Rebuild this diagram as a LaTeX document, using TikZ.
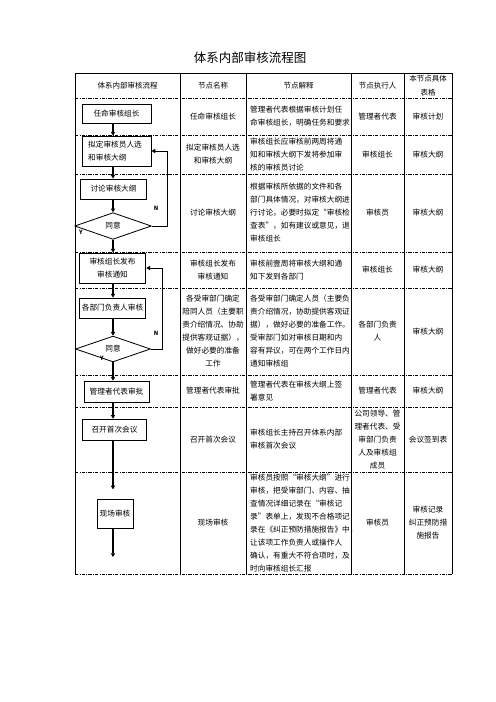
\documentclass[tikz,border=0pt]{standalone}
\usepackage{fontspec}
\setmainfont{Noto Sans CJK SC}
\usetikzlibrary{arrows.meta, positioning, shapes.geometric}

\newcommand{\cellfont}{\fontsize{9.2}{15.6}\selectfont}
\newcommand{\headfont}{\fontsize{9}{16.5}\selectfont}

\begin{document}
\begin{tikzpicture}[
x=1.2pt, y=-1.2pt,
cell/.style={align=center, font=\cellfont, inner sep=0pt},
note/.style={align=left, anchor=west, font=\cellfont, inner sep=0pt},
head/.style={align=center, font=\headfont, inner sep=0pt},
stepbox/.style={rectangle, draw=black, line width=1pt, align=center, font=\cellfont, inner sep=0pt, minimum width=80pt, minimum height=24pt},
decide/.style={diamond, draw=black, line width=1pt, font=\cellfont, inner sep=0pt, minimum width=92pt, minimum height=32pt},
tag/.style={font=\fontsize{7}{8}\selectfont\bfseries, inner sep=0pt},
flow/.style={-{Triangle[length=4.5pt, width=5pt]}, line width=1.5pt},
back/.style={-{Triangle[length=4.5pt, width=5pt]}, line width=1.1pt},
rowline/.style={line width=0.9pt, dash pattern=on 4pt off 1.5pt on 1pt off 1.5pt},
colline/.style={line width=1pt}
]
\useasboundingbox (0,0) rectangle (496,702);

% title
\node[font=\fontsize{15}{18}\selectfont, inner sep=0pt] (title) at (250,58) {体系内部审核流程图};

% table grid
\draw[colline] (75,73) -- (452,73);
\foreach \y in {98,135,174,252,288,375,407,472,574}
  \draw[rowline] (75,\y) -- (452,\y);
\foreach \x in {75,180,246,351,404,452}
  \draw[colline] (\x,73) -- (\x,574);

% header
\node[head] (h1) at (127.5,85.5) {体系内部审核流程};
\node[head] (h2) at (213,85.5) {节点名称};
\node[head] (h3) at (298.5,85.5) {节点解释};
\node[head] (h4) at (377.5,85.5) {节点执行人};
\node[head] (h5) at (428,85.5) {本节点具体\\表格};

% flow chart
\node[stepbox, minimum width=83pt, minimum height=23pt] (b1) at (116.5,113.5) {任命审核组长};
\node[stepbox, minimum width=83pt, minimum height=36pt, align=left, text width=68pt] (b2) at (116.5,151) {拟定审核员人选\\和审核大纲};
\node[stepbox, minimum height=24pt] (b3) at (113.5,189) {讨论审核大纲};
\node[decide] (d1) at (113,226) {同意};
\node[stepbox, minimum height=36pt] (b4) at (112.5,268) {审核组长发布\\审核通知};
\node[stepbox, minimum height=24pt] (b5) at (112.5,308) {各部门负责人审核};
\node[decide, minimum width=90pt, minimum height=31pt] (d2) at (113,349) {同意};
\node[stepbox, minimum width=78pt, minimum height=25pt] (b6) at (116.5,391.5) {管理者代表审批};
\node[stepbox, minimum width=76pt, minimum height=26pt] (b7) at (114.5,430) {召开首次会议};
\node[stepbox, minimum width=43pt, minimum height=34pt] (b8) at (115,514) {现场审核};
\coordinate (end) at (113,557);

\node[tag] (n1) at (156,208) {N};
\node[tag] (y1) at (81,232) {Y};
\node[tag] (n2) at (156,333) {N};
\node[tag] (y2) at (102,358) {Y};

\draw[flow] (b1.south -| d1) -- (b2.north -| d1);
\draw[flow] (b2.south -| d1) -- (b3.north -| d1);
\draw[flow] (b3.south -| d1) -- (d1.north);
\draw[flow] (d1.south) -- (b4.north -| d1);
\draw[flow] (b4.south -| d2) -- (b5.north -| d2);
\draw[flow] (b5.south -| d2) -- (d2.north);
\draw[flow] (d2.south) -- (b6.north -| d2);
\draw[flow] (b6.south -| d2) -- (b7.north -| d2);
\draw[flow, shorten >=12pt] (b7.south -| d2) -- (b8.north -| d2);
\draw[flow] (b8.south -| end) -- (end);
\draw[back] (d1.east) -- ++(16,0) |- (b2.east);
\draw[back] (d2.east) -- ++(12,0) |- (b4.east);

% node names
\node[cell] (nm1) at (213,116.5) {任命审核组长};
\node[cell] (nm2) at (213,154.5) {拟定审核员人选\\和审核大纲};
\node[cell] (nm3) at (213,213) {讨论审核大纲};
\node[cell] (nm4) at (213,270) {审核组长发布\\审核通知};
\node[cell] (nm5) at (213,331.5) {各受审部门确定\\陪同人员（主要职\\责介绍情况、协助\\提供客观证据），\\做好必要的准备\\工作};
\node[cell] (nm6) at (213,391) {管理者代表审批};
\node[cell] (nm7) at (213,439.5) {召开首次会议};
\node[cell] (nm8) at (213,523) {现场审核};

% explanations
\node[note] (ex1) at (250,116.5) {管理者代表根据审核计划任\\命审核组长，明确任务和要求};
\node[note] (ex2) at (250,154.5) {审核组长应审核前两周将通\\知和审核大纲下发将参加审\\核的审核员讨论};
\node[note] (ex3) at (250,213) {根据审核所依据的文件和各\\部门具体情况，对审核大纲进\\行讨论，必要时拟定“审核检\\查表”，如有建议或意见，退\\审核组长};
\node[note] (ex4) at (250,270) {审核前壹周将审核大纲和通\\知下发到各部门};
\node[note] (ex5) at (250,331.5) {各受审部门确定人员（主要负\\责介绍情况，协助提供客观证\\据），做好必要的准备工作。\\受审部门如对审核日期和内\\容有异议，可在两个工作日内\\通知审核组};
\node[note] (ex6) at (250,391) {管理者代表在审核大纲上签\\署意见};
\node[note] (ex7) at (250,439.5) {审核组长主持召开体系内部\\审核首次会议};
\node[note] (ex8) at (250,523) {审核员按照“审核大纲”进行\\审核，把受审部门、内容、抽\\查情况详细记录在“审核记\\录”表单上，发现不合格项记\\录在《纠正预防措施报告》中，\\让该项工作负责人或操作人\\确认，有重大不符合项时，及\\时向审核组长汇报};

% executors
\node[cell] (who1) at (377.5,116.5) {管理者代表};
\node[cell] (who2) at (377.5,154.5) {审核组长};
\node[cell] (who3) at (377.5,213) {审核员};
\node[cell] (who4) at (377.5,270) {审核组长};
\node[cell] (who5) at (377.5,331.5) {各部门负责\\人};
\node[cell] (who6) at (377.5,391) {管理者代表};
\node[cell] (who7) at (377.5,439.5) {公司领导、管\\理者代表、受\\审部门负责\\人及审核组\\成员};
\node[cell] (who8) at (377.5,523) {审核员};

% forms
\node[cell] (form1) at (428,116.5) {审核计划};
\node[cell] (form2) at (428,154.5) {审核大纲};
\node[cell] (form3) at (428,213) {审核大纲};
\node[cell] (form4) at (428,270) {审核大纲};
\node[cell] (form5) at (428,331.5) {审核大纲};
\node[cell] (form6) at (428,391) {审核大纲};
\node[cell] (form7) at (428,439.5) {会议签到表};
\node[cell] (form8) at (428,523) {审核记录\\纠正预防措\\施报告};
\end{tikzpicture}
\end{document}
